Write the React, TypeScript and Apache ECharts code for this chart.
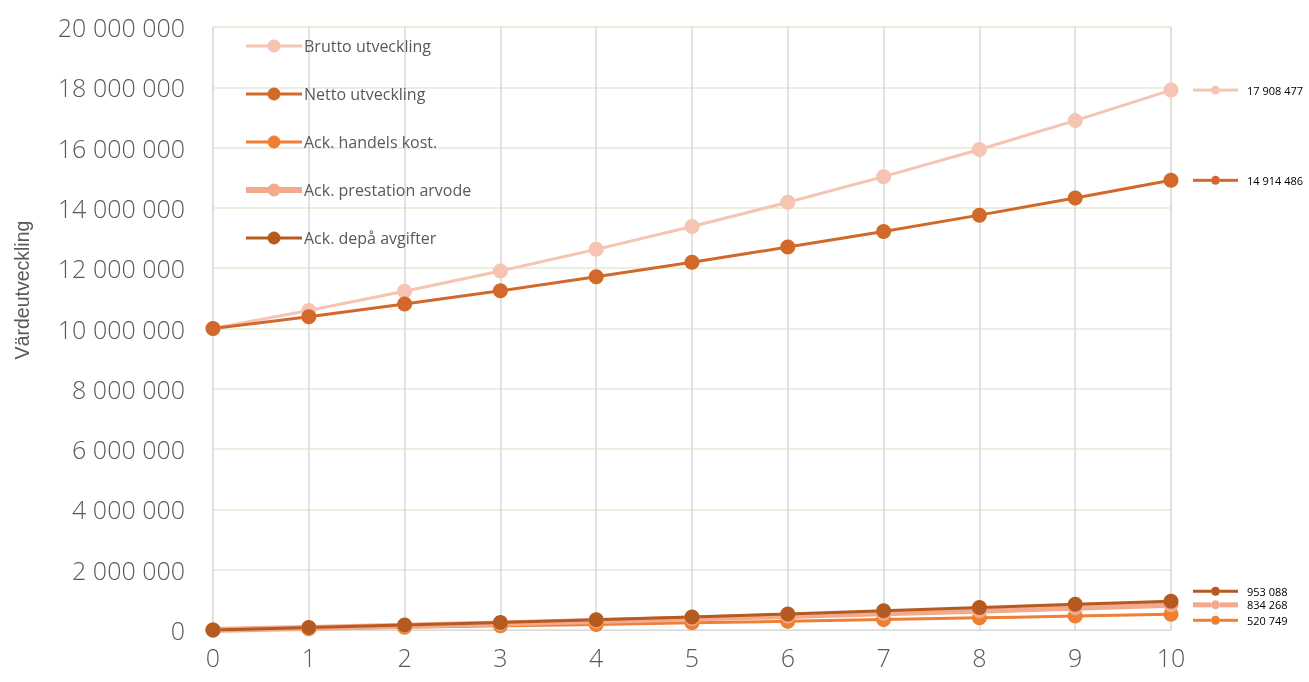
import React, { useEffect, useRef } from "react";
import * as echarts from "echarts";

const years = [0, 1, 2, 3, 4, 5, 6, 7, 8, 9, 10];
const brutto = [10000000, 10600000, 11236000, 11910160, 12624770, 13382256, 14185191, 15036303, 15938481, 16894790, 17908477];
const netto = [10000000, 10390000, 10810000, 11250000, 11720000, 12200000, 12700000, 13220000, 13760000, 14330000, 14914486];
const handels = [0, 44000, 90000, 137000, 186000, 237000, 290000, 346000, 403000, 461000, 520749];
const prestation = [0, 70000, 142000, 218000, 297000, 380000, 467000, 557000, 642000, 737000, 834268];
const depa = [0, 80000, 163000, 250000, 340000, 435000, 533000, 636000, 743000, 855000, 953088];

const seriesNames = ["Brutto utveckling", "Netto utveckling", "Ack. handels kost.", "Ack. prestation arvode", "Ack. depå avgifter"];
const seriesData = [brutto, netto, handels, prestation, depa];
const yAxisTitle = "Värdeutveckling";
const colors = ["#F5C4B2", "#D2692A", "#EE7F33", "#F3AA8C", "#B55B22"];
const widths = [3, 3, 3, 6, 3];
const labelOffsets = [0, 0, 6, 0, -10];

const fmt = (v: number) => String(Math.round(v)).replace(/\B(?=(\d{3})+(?!\d))/g, " ");

export default function App() {
  const ref = useRef<HTMLDivElement>(null);
  useEffect(() => {
    if (!ref.current) return;
    const chart = echarts.init(ref.current, null, { renderer: "svg" });
    const font = "'Open Sans', sans-serif";
    chart.setOption({
      animation: false,
      grid: {
        left: 213,
        right: 138,
        top: 27,
        bottom: 52,
        show: true,
        borderColor: "#E6EAD2",
        borderWidth: 1,
        outerBoundsMode: "none",
        containLabel: false,
      },
      graphic: [
        {
          type: "text",
          x: 22,
          y: 290,
          rotation: Math.PI / 2,
          style: {
            text: yAxisTitle,
            fontFamily: "'Liberation Sans', Arial, sans-serif",
            fontSize: 19.5,
            fill: "#595959",
            align: "center",
            verticalAlign: "middle",
          },
        },
      ],
      legend: {
        orient: "vertical",
        left: 238,
        top: 33,
        itemWidth: 56,
        itemHeight: 16,
        itemGap: 32,
        textStyle: { fontFamily: font, fontSize: 16, color: "#595959", padding: [0, 0, 0, -3] },
        data: seriesNames.map((name, i) => ({
          name,
          lineStyle: { width: widths[i] === 6 ? 6 : 3 },
        })),
      },
      xAxis: {
        type: "value",
        min: 0,
        max: 10,
        interval: 1,
        axisLine: { show: true, lineStyle: { color: "#D9D9D9", width: 1 } },
        axisTick: { show: false },
        splitLine: { show: true, lineStyle: { color: "#D9D9D9", width: 1.5 } },
        axisLabel: { fontFamily: font, fontSize: 25, fontWeight: 300, color: "#595959", margin: 14 },
      },
      yAxis: {
        type: "value",
        min: 0,
        max: 20000000,
        interval: 2000000,
        axisLine: { show: false },
        axisTick: { show: false },
        splitLine: { show: true, lineStyle: { color: "#E6EAD2", width: 1.5 } },
        axisLabel: {
          fontFamily: font,
          fontSize: 25,
          fontWeight: 300,
          color: "#595959",
          margin: 28,
          formatter: (v: number) => fmt(v),
        },
      },
      series: seriesNames.map((name, i) => ({
        name,
        type: "line",
        data: years.map((x, j) => [x, seriesData[i][j]]),
        symbol: "circle",
        symbolSize: 15,
        showSymbol: true,
        color: colors[i],
        lineStyle: { color: colors[i], width: widths[i] },
        itemStyle: { color: colors[i] },
        endLabel: {
          show: true,
          distance: 22,
          offset: [0, labelOffsets[i]],
          formatter: (p: any) =>
            "{l|}{c|}{r|}{t|" + fmt(Array.isArray(p.value) ? p.value[1] : p.value) + "}",
          rich: {
            l: { width: 18, height: i === 3 ? 5 : 3, backgroundColor: colors[i] },
            c: { width: 9, height: 9, borderRadius: 4.5, backgroundColor: colors[i] },
            r: { width: 18, height: i === 3 ? 5 : 3, backgroundColor: colors[i] },
            t: { fontFamily: font, fontSize: 11, color: "#000000", padding: [0, 0, 0, 9] },
          },
        },
      })),
    });
    return () => chart.dispose();
  }, []);
  return <div ref={ref} style={{ position: "fixed", left: 0, top: 0, width: 1309, height: 682 }} />;
}
